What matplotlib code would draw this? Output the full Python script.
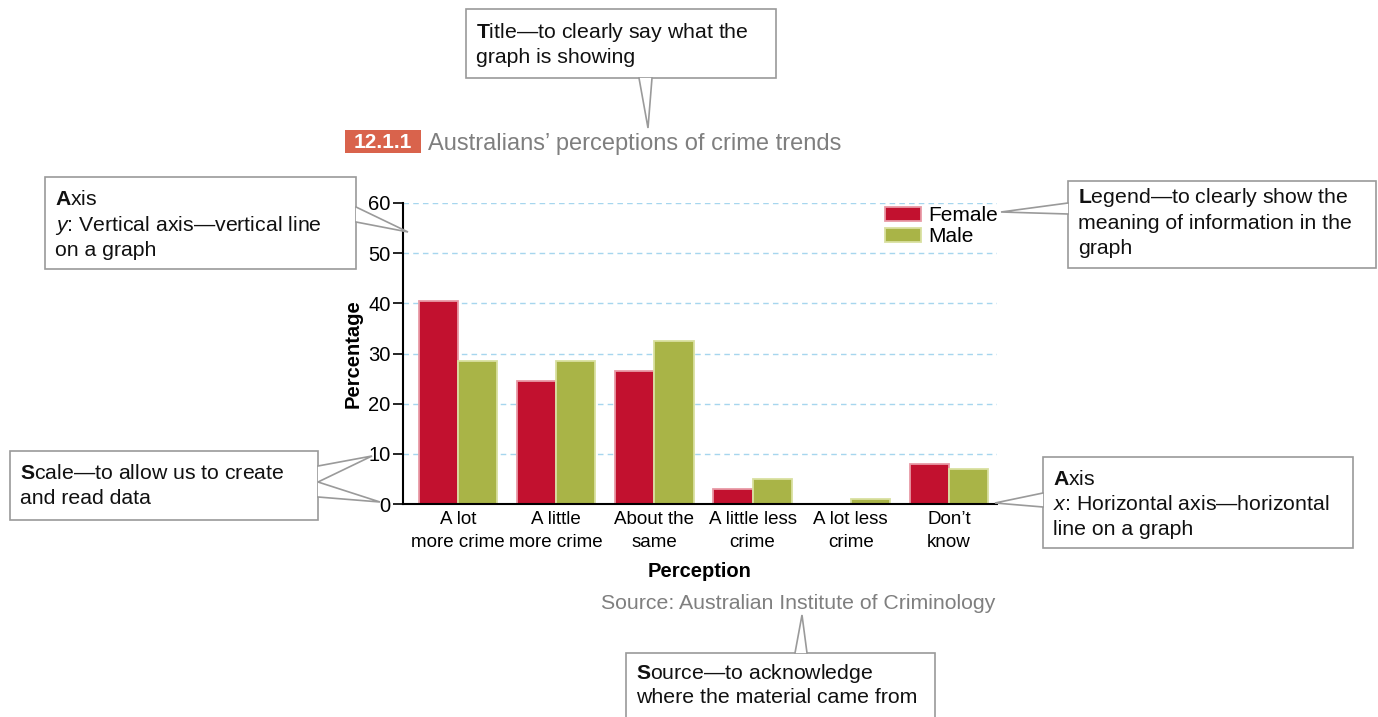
import matplotlib
matplotlib.use("Agg")
import matplotlib.pyplot as plt
from matplotlib.patches import Rectangle, Polygon
import numpy as np

plt.rcParams['font.family'] = ['Liberation Sans', 'DejaVu Sans']
plt.rcParams['mathtext.fontset'] = 'custom'
plt.rcParams['mathtext.rm'] = 'Liberation Sans'
plt.rcParams['mathtext.bf'] = 'Liberation Sans:bold'
plt.rcParams['mathtext.it'] = 'Liberation Sans:italic'

categories = ["A lot\nmore crime", "A little\nmore crime", "About the\nsame",
              "A little less\ncrime", "A lot less\ncrime", "Don\u2019t\nknow"]
female = [40.5, 24.5, 26.5, 3.0, 0.0, 8.0]
male = [28.5, 28.5, 32.5, 5.0, 1.0, 7.0]
yticks = [0, 10, 20, 30, 40, 50, 60]

W, H = 1378, 717
fig = plt.figure(figsize=(W / 100, H / 100), dpi=100)
fig.patch.set_facecolor('white')

# main axes (pixel box: x 403..997, y 203..504)
ax = fig.add_axes([403 / W, 1 - 504 / H, 594 / W, 301 / H])
x = np.arange(len(categories))
bw = 0.4
ax.bar(x - bw / 2, female, width=bw, color='#c2112f', edgecolor='#e89aa6',
       linewidth=1.3, label='Female', zorder=3)
ax.bar(x + bw / 2, male, width=bw, color='#a9b447', edgecolor='#d9e0a0',
       linewidth=1.3, label='Male', zorder=3)
ax.set_xlim(-0.56, 5.49)
ax.set_ylim(0, 60)
ax.set_yticks(yticks)
ax.set_xticks(x)
ax.set_xticklabels(categories, fontsize=13.5, linespacing=1.45)
ax.tick_params(axis='x', length=0, pad=5)
ax.tick_params(axis='y', length=7, width=1.2, direction='out', pad=2, labelsize=14.5)
for s in ['top', 'right']:
    ax.spines[s].set_visible(False)
for s in ['left', 'bottom']:
    ax.spines[s].set_linewidth(1.5)
    ax.spines[s].set_zorder(5)
ax.yaxis.grid(True, color='#a6d6ee', linestyle=(0, (4, 3)), linewidth=1.0, zorder=0)
ax.set_axisbelow(True)
ax.set_xlabel('Perception', fontsize=14.5, fontweight='bold', labelpad=8)
ax.set_ylabel('Percentage', fontsize=14.5, fontweight='bold', labelpad=4)
ax.legend(loc='upper right', bbox_to_anchor=(998 / W, 1 - 206 / H),
          bbox_transform=fig.transFigure, frameon=False, fontsize=15,
          borderpad=0, borderaxespad=0, labelspacing=0.12,
          handlelength=1.75, handleheight=0.68, handletextpad=0.35)

# overlay in pixel coordinates
ov = fig.add_axes([0, 0, 1, 1], zorder=10)
ov.set_xlim(0, W)
ov.set_ylim(H, 0)
ov.axis('off')
ov.patch.set_visible(False)

BOX_EC = '#9a9a9a'
FS = 15.3


def callout(x0, y0, x1, y1, wedges, lines, tx, baselines):
    ov.add_patch(Rectangle((x0, y0), x1 - x0, y1 - y0, facecolor='white',
                           edgecolor=BOX_EC, linewidth=1.2, zorder=1))
    for pts in wedges:
        ov.add_patch(Polygon(pts, closed=False, facecolor='white',
                             edgecolor='none', zorder=2))
        xs = [p[0] for p in pts]
        ys = [p[1] for p in pts]
        ov.plot(xs, ys, color=BOX_EC, linewidth=1.2, zorder=3,
                solid_joinstyle='miter')
    for line, by in zip(lines, baselines):
        ov.text(tx, by, line, fontsize=FS, va='baseline', ha='left',
                color='#111111', zorder=4)


D = "\u2014"
# title callout
callout(466, 9, 776, 78, [[(639, 78), (648, 128), (652, 78)]],
        [r"$\mathbf{T}$itle" + D + "to clearly say what the",
         "graph is showing"], 476, [38, 63])
# y axis callout
callout(45, 177, 356, 269, [[(356, 207), (408, 232), (356, 222)]],
        [r"$\mathbf{A}$xis", r"$\mathit{y}$: Vertical axis" + D + "vertical line",
         "on a graph"], 55, [205, 231, 256])
# scale callout
callout(10, 451, 318, 520,
        [[(318, 466), (372, 456), (318, 482), (380, 502), (318, 497)]],
        [r"$\mathbf{S}$cale" + D + "to allow us to create", "and read data"],
        20, [479, 504])
# legend callout
callout(1068, 181, 1376, 268, [[(1068, 203), (1001, 212), (1068, 214)]],
        [r"$\mathbf{L}$egend" + D + "to clearly show the",
         "meaning of information in the", "graph"], 1078, [203, 229, 254])
# x axis callout
callout(1043, 457, 1353, 548, [[(1043, 493), (995, 503), (1043, 507)]],
        [r"$\mathbf{A}$xis", r"$\mathit{x}$: Horizontal axis" + D + "horizontal",
         "line on a graph"], 1053, [485, 510, 535])
# source callout
callout(626, 653, 935, 730, [[(795, 653), (802, 615), (807, 653)]],
        [r"$\mathbf{S}$ource" + D + "to acknowledge", "where the material came from"],
        636, [679, 703])

# chart title with badge
ov.add_patch(Rectangle((345, 130), 76, 23, facecolor='#d9634c', edgecolor='none'))
ov.text(383, 142, "12.1.1", fontsize=15, fontweight='bold', color='white',
        ha='center', va='center')
ov.text(428, 150, "Australians\u2019 perceptions of crime trends", fontsize=17,
        color='#7f7f7f', ha='left', va='baseline')
# source
ov.text(995, 609, "Source: Australian Institute of Criminology", fontsize=15.3,
        color='#7f7f7f', ha='right', va='baseline')

fig.savefig('out.png', dpi=100, facecolor='white')
